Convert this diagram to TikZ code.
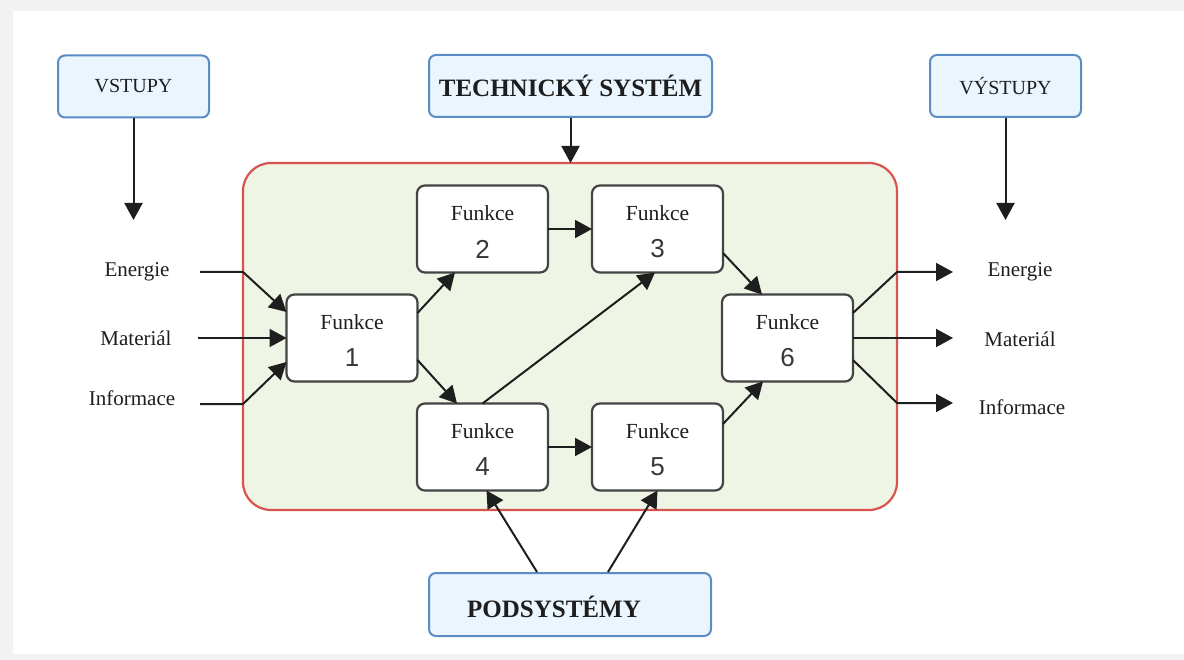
\documentclass[tikz,border=0pt]{standalone}
\usepackage{fontspec}
\setmainfont{Liberation Serif}
\newfontfamily\digitfont{Liberation Sans}
\usetikzlibrary{arrows.meta,calc}

\definecolor{inkc}{HTML}{1E1E1E}
\definecolor{boxline}{HTML}{444444}
\definecolor{bluefill}{HTML}{EAF5FD}
\definecolor{blueline}{HTML}{5B8CC4}
\definecolor{greenfill}{HTML}{EEF5E5}
\definecolor{redline}{HTML}{D9534F}
\definecolor{pagegray}{HTML}{F2F2F2}

\tikzset{
  arr/.style={draw=inkc, line width=2pt, -{Triangle[length=17pt,width=18pt]}},
  headbox/.style={draw=blueline, fill=bluefill, line width=2pt, rounded corners=7pt,
    inner sep=0pt, minimum width=151pt, minimum height=62pt,
    font=\fontsize{20}{24}\selectfont, text=inkc},
  bigbox/.style={headbox, minimum width=283pt, minimum height=62pt,
    font=\fontsize{25}{30}\selectfont\bfseries},
  sysframe/.style={draw=redline, fill=greenfill, line width=2.2pt, rounded corners=28pt,
    inner sep=0pt, outer sep=0pt, minimum width=654pt, minimum height=347pt},
  fbox/.style={draw=boxline, fill=white, line width=2.2pt, rounded corners=8pt,
    inner sep=0pt, outer sep=0pt, minimum width=131pt, minimum height=87pt},
  ftext/.style={font=\fontsize{21.5}{26}\selectfont, text=inkc, inner sep=0pt},
  fdigit/.style={font=\digitfont\fontsize{26}{31}\selectfont, text=black!78, inner sep=0pt},
  flow/.style={font=\fontsize{21}{25}\selectfont, text=inkc, inner sep=0pt},
}

% one function block: box, its caption and its number
\newcommand\funcblock[3]{%
  \node[fbox] (#1) at #2 {};
  \node[ftext] (#1-t) at ([yshift=16pt]#1.center) {Funkce};
  \node[fdigit] (#1-n) at ([yshift=-20pt]#1.center) {#3};
}

\begin{document}
\begin{tikzpicture}[x=1pt, y=-1pt]
  % page with a light gray edge
  \fill[pagegray] (0,0) rectangle (1184,660);
  \fill[white] (13,11) rectangle (1184,654);
  \useasboundingbox (0,0) rectangle (1184,660);

  % the system frame
  \node[sysframe] (frame) at (570,336.5) {};

  % heading boxes
  \node[headbox] (vst) at (133.5,86.5) {VSTUPY};
  \node[bigbox] (tech) at (570.5,86) {TECHNICKÝ SYSTÉM};
  \node[headbox] (vyst) at (1005.5,86) {VÝSTUPY};
  \node[bigbox, minimum width=282pt, minimum height=63pt] (pods) at (570,604.5) {};
  \node[font=\fontsize{25}{30}\selectfont\bfseries, text=inkc, inner sep=0pt] (pods-t) at (554,607) {PODSYSTÉMY};

  % heading arrows
  \coordinate (vst-end) at (133.5,220);
  \coordinate (vyst-end) at (1005.5,220);
  \draw[arr] (vst.south) -- (vst-end);
  \draw[arr] (tech.south) -- (tech.south |- frame.north);
  \draw[arr] (vyst.south) -- (vyst-end);

  % function blocks
  \funcblock{f1}{(352,338)}{1}
  \funcblock{f2}{(482.5,229)}{2}
  \funcblock{f3}{(657.5,229)}{3}
  \funcblock{f4}{(482.5,447)}{4}
  \funcblock{f5}{(657.5,447)}{5}
  \funcblock{f6}{(787.5,338)}{6}

  % inputs
  \node[flow] (in-e) at (137,272) {Energie};
  \node[flow] (in-m) at (136,338) {Materiál};
  \node[flow] (in-i) at (132,398) {Informace};
  \coordinate (ie0) at (200,272);
  \coordinate (ie1) at (243,272);
  \coordinate (im0) at (198,338);
  \coordinate (ii0) at (200,404);
  \coordinate (ii1) at (243,404);
  \draw[arr] (ie0) -- (ie1) -- ($(f1.west)+(0,-26)$);
  \draw[arr] (im0) -- (f1.west);
  \draw[arr] (ii0) -- (ii1) -- ($(f1.west)+(0,24)$);

  % links between functions
  \draw[arr] ($(f1.east)+(0,-25)$) -- ($(f2.south west)+(38,0)$);
  \draw[arr] ($(f1.east)+(0,22)$) -- ($(f4.north west)+(40,0)$);
  \draw[arr] (f2.east) -- (f3.west);
  \draw[arr] (f4.north) -- ($(f3.south west)+(63,0)$);
  \draw[arr] (f4.east) -- (f5.west);
  \draw[arr] ($(f3.east)+(0,24)$) -- ($(f6.north west)+(40,0)$);
  \draw[arr] ($(f5.east)+(0,-23)$) -- ($(f6.south west)+(41,0)$);

  % subsystems feed functions 4 and 5
  \draw[arr] ($(pods.north)+(-33,0)$) -- ($(f4.south)+(4,0)$);
  \draw[arr] ($(pods.north)+(38,0)$) -- (f5.south);

  % outputs
  \node[flow] (out-e) at (1020,272) {Energie};
  \node[flow] (out-m) at (1020,339) {Materiál};
  \node[flow] (out-i) at (1022,407) {Informace};
  \coordinate (oe1) at (897,272);
  \coordinate (oe2) at (953,272);
  \coordinate (om2) at (953,338);
  \coordinate (oi1) at (897,403);
  \coordinate (oi2) at (953,403);
  \draw[arr] ($(f6.east)+(0,-25)$) -- (oe1) -- (oe2);
  \draw[arr] (f6.east) -- (om2);
  \draw[arr] ($(f6.east)+(0,22)$) -- (oi1) -- (oi2);
\end{tikzpicture}
\end{document}
